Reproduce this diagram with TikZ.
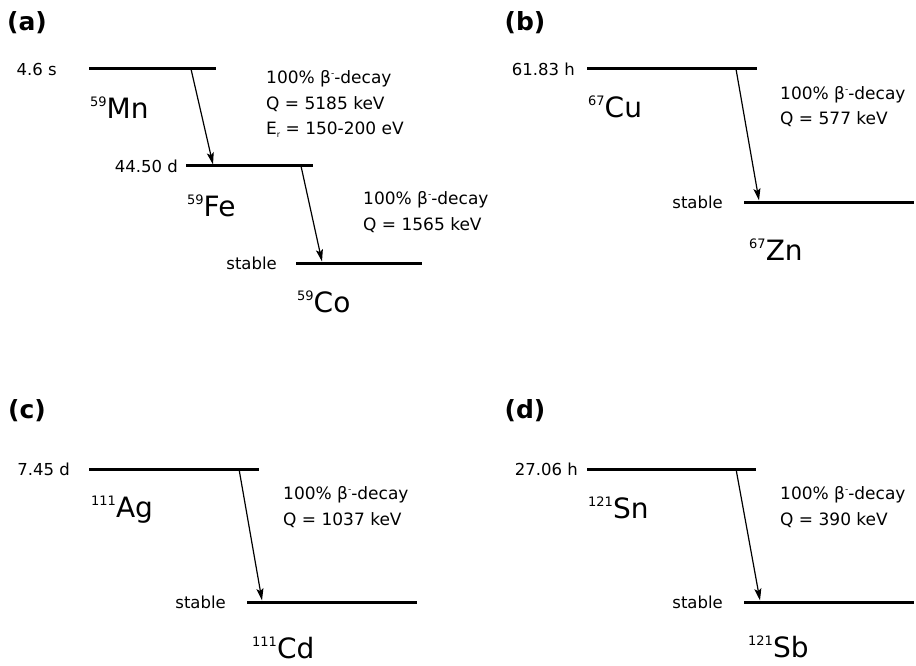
\documentclass[tikz,border=0pt]{standalone}
\usepackage{fontspec}
\setmainfont{DejaVu Sans}
\usetikzlibrary{arrows.meta}
\newcommand{\nucl}[2]{\raisebox{12pt}{\fontsize{13}{13}\selectfont #1}#2}
\newcommand{\bdecay}{100\% β\raisebox{7pt}{\fontsize{9}{9}\selectfont -}-decay}
\begin{document}
\begin{tikzpicture}[x=1pt,y=-1pt,line join=round,
  >={Stealth[length=12pt,width=7pt,inset=2.5pt]},
  level/.style={line width=3pt},
  decay/.style={->,line width=1.2pt},
  tag/.style={font=\bfseries\fontsize{25}{28}\selectfont,inner sep=0pt},
  life/.style={font=\fontsize{16.5}{19}\selectfont,anchor=east,inner sep=0pt},
  nuc/.style={font=\fontsize{28}{30}\selectfont,anchor=base west,inner sep=0pt},
  info/.style={font=\fontsize{17}{25.5}\selectfont,align=left,anchor=base west,inner sep=0pt}]
\useasboundingbox (0,0) rectangle (916,666);
% levels
\path
(89,69)coordinate(Mn1) (216,69)coordinate(Mn2)
(186,166)coordinate(Fe1) (313,166)coordinate(Fe2)
(296,263)coordinate(Co1) (422,263)coordinate(Co2)
(587,69)coordinate(Cu1) (757,69)coordinate(Cu2)
(744,202)coordinate(Zn1) (914,202)coordinate(Zn2)
(89,469)coordinate(Ag1) (259,469)coordinate(Ag2)
(247,602)coordinate(Cd1) (417,602)coordinate(Cd2)
(587,469)coordinate(Sn1) (756,469)coordinate(Sn2)
(744,602)coordinate(Sb1) (914,602)coordinate(Sb2);
\foreach \n in {Mn,Fe,Co,Cu,Zn,Ag,Cd,Sn,Sb}
\draw[level] (\n1)--(\n2);
% decays
\path
(191,69)coordinate(MnFe) (213,164.5)coordinate(FeMn)
(301,166)coordinate(FeCo) (322,261.5)coordinate(CoFe)
(736,69)coordinate(CuZn) (759,200.5)coordinate(ZnCu)
(239,469)coordinate(AgCd) (262,600.5)coordinate(CdAg)
(736,469)coordinate(SnSb) (760,600.5)coordinate(SbSn);
\foreach \a/\b in {MnFe/FeMn,FeCo/CoFe,CuZn/ZnCu,AgCd/CdAg,SnSb/SbSn}
\draw[decay] (\a)--(\b);
% panel tags
\foreach \t/\x/\y in {a/27/23,b/525/23,c/27/411,d/525/411}
\node[tag] (tag\t) at (\x,\y) {(\t)};
% half-lives
\node[life] (tMn) at (57,69) {4.6 s};
\node[life] (tFe) at (178,166) {44.50 d};
\node[life] (tCo) at (277,263) {stable};
\node[life] (tCu) at (575,69) {61.83 h};
\node[life] (tZn) at (723,202) {stable};
\node[life] (tAg) at (70,469) {7.45 d};
\node[life] (tCd) at (226,602) {stable};
\node[life] (tSn) at (578,469) {27.06 h};
\node[life] (tSb) at (723,602) {stable};
% nuclides
\node[nuc] (Mn) at (90,119) {\nucl{59}{Mn}};
\node[nuc] (Fe) at (187,216) {\nucl{59}{Fe}};
\node[nuc] (Co) at (297,312) {\nucl{59}{Co}};
\node[nuc] (Cu) at (588,118) {\nucl{67}{Cu}};
\node[nuc] (Zn) at (749,260) {\nucl{67}{Zn}};
\node[nuc] (Ag) at (91,517) {\nucl{111}{Ag}};
\node[nuc] (Cd) at (252,658) {\nucl{111}{Cd}};
\node[nuc] (Sn) at (588,518) {\nucl{121}{Sn}};
\node[nuc] (Sb) at (748,657) {\nucl{121}{Sb}};
% decay data (base = last line)
\node[info] (qMn) at (266,135) {\bdecay\\Q = 5185 keV\\E\raisebox{-2.5pt}{\fontsize{8}{8}\selectfont r} = 150-200 eV};
\node[info] (qFe) at (363,230) {\bdecay\\Q = 1565 keV};
\node[info] (qCu) at (780,125) {\bdecay\\Q = 577 keV};
\node[info] (qAg) at (283,525) {\bdecay\\Q = 1037 keV};
\node[info] (qSn) at (780,525) {\bdecay\\Q = 390 keV};
\end{tikzpicture}
\end{document}
